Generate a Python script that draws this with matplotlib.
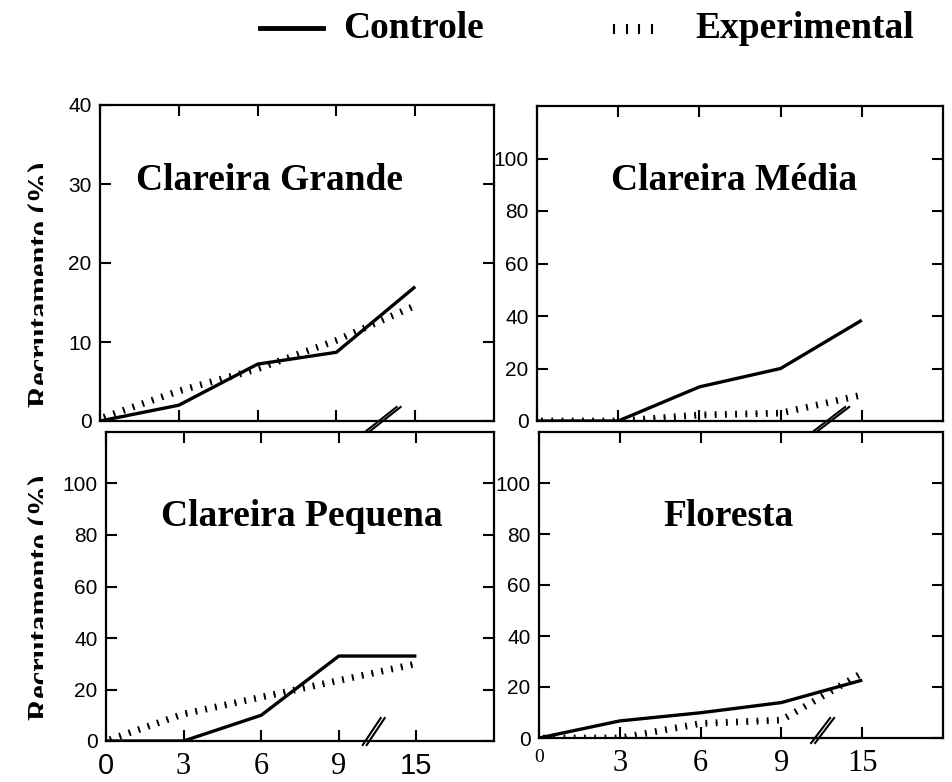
import matplotlib
matplotlib.use("Agg")
import matplotlib.pyplot as plt
from matplotlib import patheffects
from matplotlib.lines import Line2D
from matplotlib.transforms import Bbox, TransformedBbox

W, H = 953, 782

# months after the start (category axis with a break between 9 and 15)
months = ["0", "3", "6", "9", "15"]

# recruitment (%) per panel
grande_ctrl = [0, 2, 7.2, 8.7, 17]
grande_exp = [0.3, 3.8, 6.6, 10.2, 14.6]
media_ctrl = [0, 0, 13, 20, 38.4]
media_exp = [0, 0, 2.3, 3, 9.9]
pequena_ctrl = [0, 0, 10, 33, 33]
pequena_exp = [0, 10.5, 17, 23.5, 30]
floresta_ctrl = [0, 6.7, 9.9, 13.9, 22.7]
floresta_exp = [0, 0, 5.7, 7, 25.5]

SERIF = "Liberation Serif"
SANS = "Liberation Sans"


def px_rect(left, top, right, bottom):
    return [left / W, 1 - bottom / H, (right - left) / W, (bottom - top) / H]


def tick_effect(spacing=7.2, length=0.25, lw=1.3):
    # short perpendicular dashes on both sides of the path, no stroke itself
    return [patheffects.TickedStroke(spacing=spacing, angle=90, length=length, linewidth=lw),
            patheffects.TickedStroke(spacing=spacing, angle=-90, length=length, linewidth=lw)]


def draw_break(ax, xc, yoff, hdx, hdy, gap=4):
    x0, x1 = ax.get_xlim()
    bw, bh = ax.bbox.width, ax.bbox.height
    cx = (xc - x0) / (x1 - x0)
    cy = yoff / bh
    for g in (-gap / 2, gap / 2):
        ax.plot([cx + (g - hdx) / bw, cx + (g + hdx) / bw], [cy - hdy / bh, cy + hdy / bh],
                transform=ax.transAxes, color="black", lw=1.5, clip_on=False, zorder=5)


def setup(ax, ymax, yticks, xlabels=None, xfonts=None):
    ax.set_xlim(0, 5)
    ax.set_ylim(0, ymax)
    ax.set_yticks(yticks)
    ax.set_yticklabels([str(t) for t in yticks], fontfamily=SANS, fontsize=15)
    ax.set_xticks(range(len(months)))
    for s in ax.spines.values():
        s.set_linewidth(1.6)
    ax.tick_params(direction="in", length=8, width=1.5, top=True, right=True, pad=6)
    if xlabels is None:
        ax.set_xticklabels([])
    else:
        ax.set_xticklabels(xlabels)
        for lab, (fam, size) in zip(ax.get_xticklabels(), xfonts):
            lab.set_fontfamily(fam)
            lab.set_fontsize(size)
        ax.tick_params(axis="x", pad=8)


fig = plt.figure(figsize=(W / 100, H / 100), dpi=100)

ax_tl = fig.add_axes(px_rect(100, 105, 494, 421))
ax_tr = fig.add_axes(px_rect(537, 106, 943, 421))
ax_bl = fig.add_axes(px_rect(106, 432, 494, 741))
ax_br = fig.add_axes(px_rect(539, 432, 943, 738))

panels = [
    (ax_tl, grande_ctrl, grande_exp, 40, [0, 10, 20, 30, 40]),
    (ax_tr, media_ctrl, media_exp, 120, [0, 20, 40, 60, 80, 100]),
    (ax_bl, pequena_ctrl, pequena_exp, 120, [0, 20, 40, 60, 80, 100]),
    (ax_br, floresta_ctrl, floresta_exp, 120, [0, 20, 40, 60, 80, 100]),
]
xfonts = {
    ax_bl: [(SANS, 21), (SERIF, 22), (SERIF, 22), (SERIF, 22), (SANS, 21)],
    ax_br: [(SERIF, 14), (SERIF, 22), (SERIF, 22), (SERIF, 22), (SERIF, 22)],
}
for ax, ctrl, exp, ymax, yt in panels:
    xs = range(len(months))
    ax.plot(xs, exp, color="black", path_effects=tick_effect(), zorder=3)
    ax.plot(xs, ctrl, color="black", lw=2.4, solid_capstyle="butt", zorder=4)
    if ax in xfonts:
        setup(ax, ymax, yt, months, xfonts[ax])
    else:
        setup(ax, ymax, yt)

draw_break(ax_tl, 3.58, 1, 16.5, 13)
draw_break(ax_tr, 3.61, 1, 17, 13)
draw_break(ax_bl, 3.45, 9.5, 9, 13.5)
draw_break(ax_br, 3.51, 7.5, 9.5, 12.5)

# panel titles
title_kw = dict(fontfamily=SERIF, fontweight="bold", fontsize=27, ha="center", va="baseline")
fig.text(270 / W, 1 - 190 / H, "Clareira Grande", **title_kw)
fig.text(734 / W, 1 - 190 / H, "Clareira Média", **title_kw)
fig.text(302 / W, 1 - 526 / H, "Clareira Pequena", **title_kw)
fig.text(729 / W, 1 - 526 / H, "Floresta", **title_kw)

# y labels, cut off on the right as in the original scan
clip = TransformedBbox(Bbox.from_extents(0, 0, 43 / W, 1), fig.transFigure)
for yc in (284, 597):
    t = fig.text(49 / W, 1 - yc / H, "Recrutamento (%)", fontfamily=SERIF, fontweight="bold",
                 fontsize=22, rotation=90, rotation_mode="anchor", ha="center", va="baseline")
    t.set_clip_box(clip)
    t.set_clip_on(True)

# legend
fig.add_artist(Line2D([260 / W, 323 / W], [1 - 28 / H, 1 - 28 / H], transform=fig.transFigure,
                      color="black", lw=3.5))
fig.text(343 / W, 1 - 38 / H, "Controle", fontfamily=SERIF, fontweight="bold", fontsize=27,
         ha="left", va="baseline")
fig.add_artist(Line2D([609 / W, 657 / W], [1 - 29 / H, 1 - 29 / H], transform=fig.transFigure,
                      color="black", path_effects=tick_effect(spacing=7.2, length=0.4, lw=1.5)))
fig.text(695 / W, 1 - 38 / H, "Experimental", fontfamily=SERIF, fontweight="bold", fontsize=27,
         ha="left", va="baseline")

fig.savefig("out.png", dpi=100)
